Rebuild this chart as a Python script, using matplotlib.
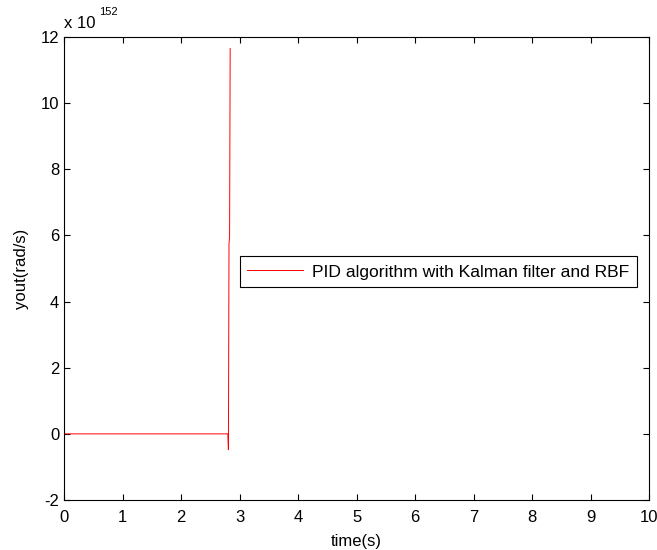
import matplotlib
matplotlib.use('Agg')
import matplotlib.pyplot as plt
from matplotlib.ticker import FuncFormatter

plt.rcParams['font.family'] = ['Liberation Sans', 'DejaVu Sans']

# controller output, blows up just before t = 2.85 s
t = [0.0, 2.80, 2.81, 2.82, 2.83, 2.84]
yout = [0.0, 0.0, -0.48e152, 5.75e152, 5.95e152, 11.65e152]
scale = 1e152

fig = plt.figure(figsize=(6.57, 5.5), dpi=100)
ax = fig.add_axes([0.0974, 0.0909, 0.8906, 0.8418])

ax.plot(t, yout, color='red', lw=0.7, label='PID algorithm with Kalman filter and RBF')

ax.set_xlim(0, 10)
ax.set_ylim(-2 * scale, 12 * scale)
ax.set_xticks(range(0, 11))
ax.set_yticks([k * scale for k in range(-2, 13, 2)])
ax.yaxis.set_major_formatter(FuncFormatter(lambda v, p: '%g' % round(v / scale)))
ax.tick_params(direction='in', length=4, width=0.8, top=True, right=True,
               labelsize=12)
ax.tick_params(axis='x', pad=7)
ax.tick_params(axis='y', pad=3.5)
for s in ax.spines.values():
    s.set_linewidth(0.8)

# exponent label in the matlab style
fig.text(64 / 657, 1 - 28 / 550, 'x 10', fontsize=12, ha='left', va='baseline')
fig.text(99 / 657, 1 - 15 / 550, '152', fontsize=8, ha='left', va='baseline')

ax.set_xlabel('time(s)', fontsize=12, labelpad=6.5)
ax.set_ylabel('yout(rad/s)', fontsize=12, labelpad=8)

leg = ax.legend(loc='center', bbox_to_anchor=(0.300, 0.459, 0.6795, 0.067),
                mode='expand', fontsize=12.6, handlelength=3.17, handletextpad=0.5,
                fancybox=False, framealpha=1, borderpad=0.45, borderaxespad=0)
leg.get_frame().set_edgecolor('black')
leg.get_frame().set_linewidth(0.8)

fig.savefig('out.png', dpi=100)
